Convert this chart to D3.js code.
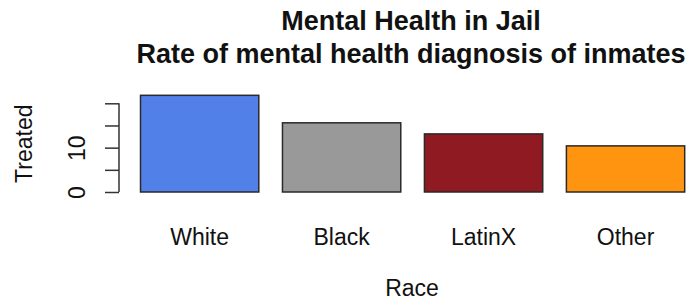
<!DOCTYPE html>
<html>
<head>
<meta charset="utf-8">
<script src="https://cdn.jsdelivr.net/npm/d3@7"></script>
<style>
  body { margin: 0; background: #fff; }
  svg text { font-family: "Liberation Sans", Arial, sans-serif; fill: #111; }
</style>
</head>
<body>
<svg id="chart" width="691" height="301"></svg>
<script>
  var races = ['White', 'Black', 'LatinX', 'Other']
  var treated = [21.8, 15.6, 13.1, 10.4]
  var barColours = ['#5280e9', '#999999', '#8f1a22', '#ff9410']
  var yTicks = [0, 5, 10, 15, 20]
  var yTickLabels = ['0', '', '10', '', '']
  var titleLines = ['Mental Health in Jail', 'Rate of mental health diagnosis of inmates']

  var svg = d3.select('#chart')

  // plot region, R style (bars padded 4% inside the region)
  var plotLeft = 119,
      plotRight = 706,
      barsLeft = 140.5,
      barsRight = 684.7

  var xScale = d3.scaleBand()
      .domain(races)
      .range([barsLeft, barsRight])
      .paddingInner(1 / 6)
      .paddingOuter(0)

  var yScale = d3.scaleLinear()
      .domain([0, 20])
      .range([192, 103.3])

  var g = svg.append('g')

  g.selectAll('.bar')
      .data(races)
    .enter().append('rect')
      .attr('class', 'bar')
      .attr('x', function(d) { return xScale(d) })
      .attr('width', xScale.bandwidth())
      .attr('y', function(d, i) { return yScale(treated[i]) })
      .attr('height', function(d, i) { return yScale(0) - yScale(treated[i]) })
      .style('fill', function(d, i) { return barColours[i] })
      .style('stroke', '#2a2a2a')
      .style('stroke-width', 1.5)

  // y axis
  var yAxis = d3.axisLeft(yScale)
      .tickValues(yTicks)
      .tickSize(14)
      .tickFormat(function(d, i) { return yTickLabels[i] })

  var ax = svg.append('g')
      .attr('transform', 'translate(' + plotLeft + ',0)')
      .call(yAxis)

  ax.select('.domain')
      .attr('d', 'M0,' + yScale(0) + 'V' + yScale(20))
      .style('stroke', '#333')
      .style('stroke-width', 1.5)
  ax.selectAll('.tick line').style('stroke', '#333').style('stroke-width', 1.5)
  ax.selectAll('.tick text')
      .attr('x', null).attr('dy', null)
      .attr('transform', 'translate(-42,0) rotate(-90)')
      .attr('text-anchor', 'middle')
      .attr('dominant-baseline', 'central')
      .style('font-size', '23px')
      .style('fill', '#111')

  // category labels
  svg.selectAll('.xlab')
      .data(races)
    .enter().append('text')
      .attr('class', 'xlab')
      .attr('x', function(d) { return xScale(d) + xScale.bandwidth() / 2 })
      .attr('y', 245)
      .attr('text-anchor', 'middle')
      .style('font-size', '23px')
      .text(function(d) { return d })

  svg.append('text')
      .attr('x', (plotLeft + plotRight) / 2 - 0.5)
      .attr('y', 296)
      .attr('text-anchor', 'middle')
      .style('font-size', '23px')
      .text('Race')

  svg.append('text')
      .attr('transform', 'translate(24,143.7) rotate(-90)')
      .attr('text-anchor', 'middle')
      .attr('dominant-baseline', 'central')
      .style('font-size', '23px')
      .text('Treated')

  svg.selectAll('.title')
      .data(titleLines)
    .enter().append('text')
      .attr('class', 'title')
      .attr('x', (plotLeft + plotRight) / 2 - 1.5)
      .attr('y', function(d, i) { return 30 + i * 33 })
      .attr('text-anchor', 'middle')
      .style('font-size', '27px')
      .style('font-weight', 'bold')
      .text(function(d) { return d })
</script>
</body>
</html>
